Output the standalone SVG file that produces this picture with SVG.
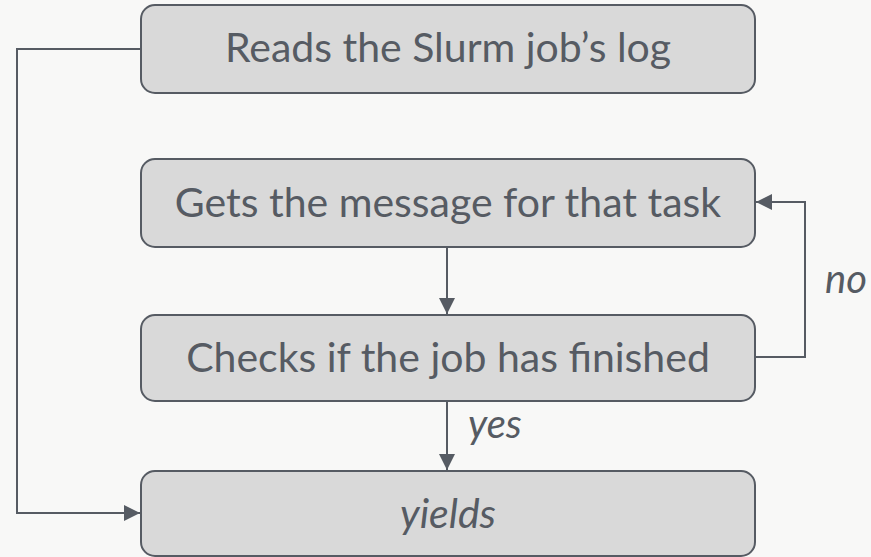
<svg xmlns="http://www.w3.org/2000/svg" width="871" height="557" viewBox="0 0 871 557">
<defs>
<style>
.box{fill:#d9d9d9;stroke:#565b63;stroke-width:2}
.t{font-family:Lato,"Open Sans",sans-serif;font-size:41px;fill:#565b63;text-anchor:middle}
.i{font-style:italic}
.c{fill:none;stroke:#565b63;stroke-width:2}
.l{font-family:Lato,"Open Sans",sans-serif;font-size:40px;fill:#565b63;font-style:italic}
</style>
<marker id="ah" viewBox="0 0 16 16" markerWidth="16" markerHeight="16" refX="16" refY="8" orient="auto" markerUnits="userSpaceOnUse">
<path d="M0,0 L16,8 L0,16 Z" fill="#565b63"/>
</marker>
</defs>
<rect width="871" height="557" fill="#f8f8f7"/>
<g id="connectors">
<path class="c" d="M141,49 H17 V513 H140" marker-end="url(#ah)"/>
<path class="c" d="M755,357 H805 V202 H756" marker-end="url(#ah)"/>
<path class="c" d="M447,247 V314" marker-end="url(#ah)"/>
<path class="c" d="M447,401 V470" marker-end="url(#ah)"/>
<text class="l" x="825" y="293">no</text>
<text class="l" x="468" y="438">yes</text>
</g>
<g id="n1"><rect class="box" x="141" y="5" width="614" height="88" rx="14"/><text class="t" x="448" y="62">Reads the Slurm job’s log</text></g>
<g id="n2"><rect class="box" x="141" y="159" width="614" height="88" rx="14"/><text class="t" x="448" y="217">Gets the message for that task</text></g>
<g id="n3"><rect class="box" x="141" y="315" width="614" height="86" rx="14"/><text class="t" x="448" y="372">Checks if the job has finished</text></g>
<g id="n4"><rect class="box" x="141" y="471" width="614" height="85" rx="14"/><text class="t i" x="448" y="528">yields</text></g>
</svg>
